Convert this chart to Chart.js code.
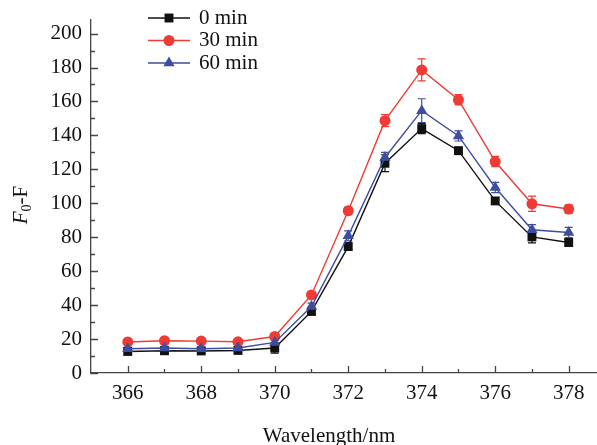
<!DOCTYPE html>
<html>
<head>
<meta charset="utf-8">
<script src="https://cdn.jsdelivr.net/npm/chart.js@4.4.0/dist/chart.umd.min.js"></script>
<style>
html,body{margin:0;padding:0;background:#fff;}
#wrap{width:597px;height:445px;position:relative;}
</style>
</head>
<body>
<div id="wrap"><canvas id="c" width="597" height="445"></canvas></div>
<script>
const wavelengths = [366,367,368,369,370,371,372,373,374,375,376,377,378];
const seriesNames = ['0 min','30 min','60 min'];
const values0 = [12.7,13.1,13.0,13.3,14.7,36.3,74.5,123.6,144.0,131.0,101.4,80.2,76.9];
const values30 = [18.3,19.0,18.8,18.4,21.5,46.0,95.6,148.7,178.6,161.0,124.6,99.7,96.6];
const values60 = [14.3,14.7,14.3,14.7,18.0,39.2,80.8,127.0,154.6,139.7,109.3,84.4,82.8];
const errors0 = [1.5,1.5,1.5,1.5,3,2,2,5,3,2,2,3.5,2];
const errors30 = [1,1,1,1,1.5,2,2,3.5,6.5,3,3,4.5,2.5];
const errors60 = [1,1,1,1,1.5,2,3,3,7,3,3,3,3];
const xTickLabels = [366,368,370,372,374,376,378];
const yTickLabels = [0,20,40,60,80,100,120,140,160,180,200];

const colors = ['#111111','#f03a36','#3d4ea0'];
const styles = ['rect','circle','triangle'];
const radii = [6.3,5.5,6.5];
const allValues = [values0, values30, values60];
const allErrors = [errors0, errors30, errors60];
const FONT = '"Liberation Serif","Times New Roman",serif';

const datasets = allValues.map((vals, i) => ({
  label: seriesNames[i],
  data: vals.map((v, k) => ({x: wavelengths[k], y: v})),
  errors: allErrors[i],
  borderColor: colors[i],
  backgroundColor: colors[i],
  borderWidth: 1.4,
  pointStyle: styles[i],
  pointRadius: radii[i],
  pointBorderWidth: 0,
  pointBackgroundColor: colors[i],
  tension: 0,
  clip: false,
  order: [3,2,1][i]
}));

const decor = {
  id: 'decor',
  beforeDatasetsDraw(chart) {
    const ctx = chart.ctx;
    const y = chart.scales.y;
    chart.data.datasets.forEach((ds, i) => {
      const meta = chart.getDatasetMeta(i);
      ctx.save();
      ctx.strokeStyle = ds.borderColor;
      ctx.lineWidth = 1.2;
      meta.data.forEach((pt, k) => {
        const v = ds.data[k].y, e = ds.errors[k];
        const top = y.getPixelForValue(v + e), bot = y.getPixelForValue(v - e);
        ctx.beginPath();
        ctx.moveTo(pt.x, top); ctx.lineTo(pt.x, bot);
        ctx.moveTo(pt.x - 4, top); ctx.lineTo(pt.x + 4, top);
        ctx.moveTo(pt.x - 4, bot); ctx.lineTo(pt.x + 4, bot);
        ctx.stroke();
      });
      ctx.restore();
    });
  },
  afterDraw(chart) {
    const ctx = chart.ctx;
    const xs = chart.scales.x, ys = chart.scales.y;
    const area = chart.chartArea;
    ctx.save();
    ctx.strokeStyle = '#444';
    ctx.lineWidth = 1.3;
    ctx.beginPath();
    for (let v = 0; v <= 200; v += 10) {
      const py = Math.round(ys.getPixelForValue(v)) + 0.5;
      const len = (v % 20 === 0) ? 7 : 4;
      ctx.moveTo(area.left, py); ctx.lineTo(area.left + len, py);
    }
    for (let v = 366; v <= 378; v += 1) {
      const px = Math.round(xs.getPixelForValue(v)) + 0.5;
      const len = (v % 2 === 0) ? 7 : 4;
      ctx.moveTo(px, area.bottom); ctx.lineTo(px, area.bottom - len);
    }
    ctx.stroke();
    // legend
    const lx = 148, lw = 42;
    const rows = [18, 40.5, 63];
    chart.data.datasets.forEach((ds, i) => {
      const yy = rows[i];
      ctx.strokeStyle = ds.borderColor;
      ctx.lineWidth = 1.4;
      ctx.beginPath(); ctx.moveTo(lx, yy); ctx.lineTo(lx + lw, yy); ctx.stroke();
      ctx.fillStyle = ds.borderColor;
      Chart.helpers.drawPoint(ctx, {pointStyle: ds.pointStyle, radius: ds.pointRadius, borderWidth: 0}, lx + lw / 2, yy);
      ctx.fillStyle = '#111';
      ctx.font = '21px ' + FONT;
      ctx.textBaseline = 'middle';
      ctx.textAlign = 'left';
      ctx.fillText(ds.label, 199, yy);
    });
    // y title F0-F
    ctx.save();
    ctx.translate(20, 205);
    ctx.rotate(-Math.PI / 2);
    ctx.fillStyle = '#111';
    ctx.textBaseline = 'alphabetic';
    ctx.textAlign = 'left';
    const big = 'italic 21px ' + FONT, reg = '21px ' + FONT, sub = '14px ' + FONT;
    ctx.font = big; const w1 = ctx.measureText('F').width;
    ctx.font = sub; const w2 = ctx.measureText('0').width;
    ctx.font = reg; const w3 = ctx.measureText('-F').width;
    let sx = -(w1 + w2 + w3) / 2;
    ctx.font = big; ctx.fillText('F', sx, 7); sx += w1;
    ctx.font = sub; ctx.fillText('0', sx, 11); sx += w2;
    ctx.font = reg; ctx.fillText('-F', sx, 7);
    ctx.restore();
    // x title
    ctx.fillStyle = '#111';
    ctx.font = '21px ' + FONT;
    ctx.textAlign = 'center';
    ctx.textBaseline = 'alphabetic';
    ctx.fillText('Wavelength/nm', 329, 442);
    ctx.restore();
  }
};

new Chart(document.getElementById('c'), {
  type: 'line',
  data: { datasets },
  options: {
    responsive: false,
    animation: false,
    devicePixelRatio: 1,
    layout: { autoPadding: false, padding: { top: 20, right: 0, left: 0, bottom: 0 } },
    plugins: { legend: { display: false }, tooltip: { enabled: false } },
    scales: {
      x: {
        type: 'linear',
        min: 365, max: 378.77,
        afterBuildTicks: s => { s.ticks = xTickLabels.map(v => ({value: v})); },
        afterFit: s => { s.height = 72; s.paddingRight = 0; s.paddingLeft = 0; },
        grid: { display: true, drawOnChartArea: false, drawTicks: false },
        border: { display: true, color: '#444', width: 1.3 },
        ticks: { color: '#111', font: { family: FONT, size: 21 }, padding: 8, maxRotation: 0, autoSkip: false }
      },
      y: {
        type: 'linear',
        min: 0, max: 208,
        afterBuildTicks: s => { s.ticks = yTickLabels.map(v => ({value: v})); },
        afterFit: s => { s.width = 91; s.paddingTop = 0; s.paddingBottom = 0; },
        grid: { display: true, drawOnChartArea: false, drawTicks: false },
        border: { display: true, color: '#444', width: 1.3 },
        ticks: { color: '#111', font: { family: FONT, size: 21 }, padding: 9 }
      }
    }
  },
  plugins: [decor]
});
</script>
</body>
</html>
